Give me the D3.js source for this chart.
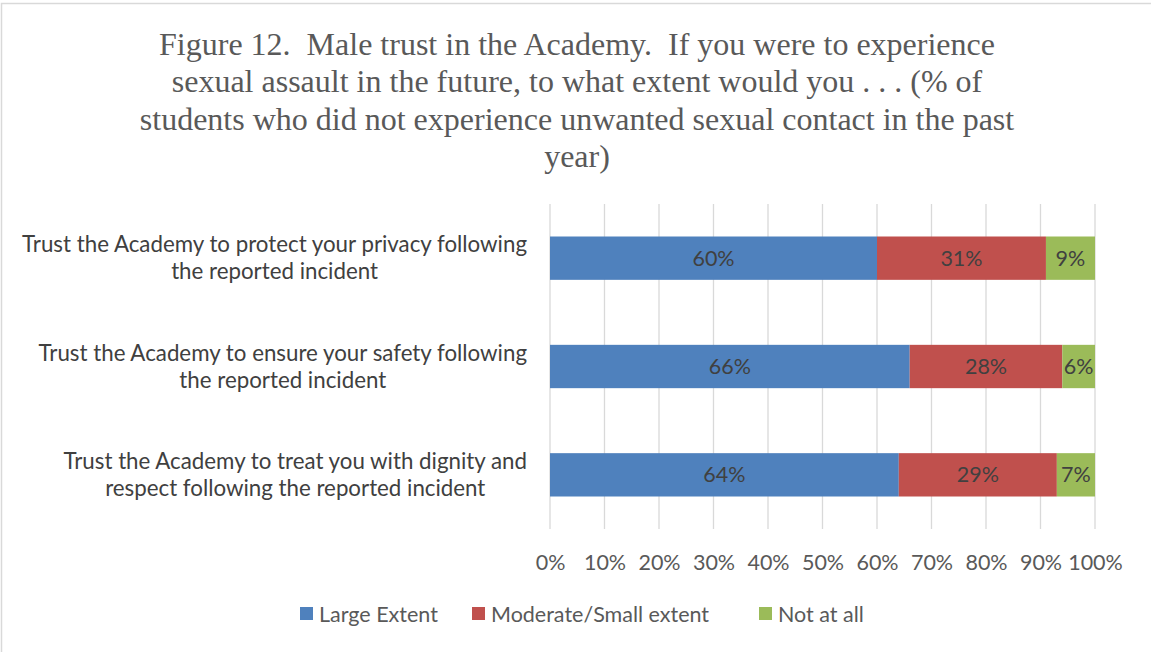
<!DOCTYPE html>
<html>
<head>
<meta charset="utf-8">
<script src="https://cdn.jsdelivr.net/npm/d3@7"></script>
<style>
  html, body { margin: 0; padding: 0; background: #fff; }
  svg { display: block; }
  text { white-space: pre; }
</style>
</head>
<body>
<svg id="chart" width="1151" height="652"></svg>
<script>
const titleLines = [
  "Figure 12.  Male trust in the Academy.  If you were to experience",
  "sexual assault in the future, to what extent would you . . . (% of",
  "students who did not experience unwanted sexual contact in the past",
  "year)"
];
const categories = [
  ["Trust the Academy to protect your privacy following", "the reported incident"],
  ["Trust the Academy to ensure your safety following", "the reported incident"],
  ["Trust the Academy to treat you with dignity and", "respect following the reported incident"]
];
const seriesNames = ["Large Extent", "Moderate/Small extent", "Not at all"];
const seriesColors = ["#4F81BD", "#C0504D", "#9BBB59"];
const largeExtent = [60, 66, 64];
const moderateSmall = [31, 28, 29];
const notAtAll = [9, 6, 7];
const tickValues = [0, 10, 20, 30, 40, 50, 60, 70, 80, 90, 100];

const svg = d3.select("#chart");
const W = 1151, H = 652;
const sansFont = "Lato, 'Open Sans', sans-serif";
const fs = 21.5;

// border
svg.append("rect").attr("x", 1.5).attr("y", 3.5).attr("width", W + 10).attr("height", H + 10)
  .attr("fill", "#fff").attr("stroke", "#D9D9D9").attr("stroke-width", 1.5);

// title
svg.append("g").selectAll("text").data(titleLines).join("text")
  .attr("x", 577).attr("y", (d, i) => 55 + i * 37.3)
  .attr("text-anchor", "middle")
  .attr("font-family", "'Liberation Serif', 'Times New Roman', serif")
  .attr("font-size", 32).attr("fill", "#595959")
  .text(d => d);

const x = d3.scaleLinear().domain([0, 100]).range([550, 1095]);
const y = d3.scaleBand().domain(d3.range(categories.length)).range([204, 529]).paddingInner(0.6).paddingOuter(0.3);

// gridlines
svg.append("g").selectAll("line").data(tickValues).join("line")
  .attr("x1", d => x(d)).attr("x2", d => x(d))
  .attr("y1", 204).attr("y2", 529)
  .attr("stroke", "#D9D9D9").attr("stroke-width", 1.3);

// axis tick labels
const xAxis = d3.axisBottom(x).tickValues(tickValues).tickFormat(d => d + "%").tickSize(0).tickPadding(0);
const ax = svg.append("g").attr("transform", "translate(0,570)").call(xAxis);
ax.select(".domain").remove();
ax.selectAll("text").attr("font-family", sansFont).attr("font-size", fs).attr("fill", "#595959").attr("dy", 0);

// stack
const rows = categories.map((c, i) => ({ i, s0: largeExtent[i], s1: moderateSmall[i], s2: notAtAll[i] }));
const stack = d3.stack().keys(["s0", "s1", "s2"]);
const stacked = stack(rows);

const gBars = svg.append("g");
stacked.forEach((layer, k) => {
  gBars.append("g").selectAll("rect").data(layer).join("rect")
    .attr("x", d => x(d[0])).attr("width", d => x(d[1]) - x(d[0]))
    .attr("y", d => y(d.data.i)).attr("height", y.bandwidth())
    .attr("fill", seriesColors[k]);
  gBars.append("g").selectAll("text").data(layer).join("text")
    .attr("x", d => (x(d[0]) + x(d[1])) / 2)
    .attr("y", d => y(d.data.i) + y.bandwidth() / 2 + 7.5)
    .attr("text-anchor", "middle")
    .attr("font-family", sansFont).attr("font-size", fs).attr("fill", "#404040")
    .text(d => (d[1] - d[0]) + "%");
});

// category labels
const gCat = svg.append("g");
categories.forEach((lines, i) => {
  const cy = y(i) + y.bandwidth() / 2;
  const g = gCat.append("g");
  const texts = g.selectAll("text").data(lines).join("text")
    .attr("y", (d, j) => cy + (j - (lines.length - 1) / 2) * 27 + 7.5)
    .attr("text-anchor", "middle")
    .attr("font-family", sansFont).attr("font-size", 22.3).attr("fill", "#404040")
    .text(d => d);
  let maxW = 0;
  texts.each(function () { maxW = Math.max(maxW, this.getComputedTextLength()); });
  texts.attr("x", 527 - maxW / 2);
});

// legend
const legendX = [300, 472, 759];
const lg = svg.append("g");
seriesNames.forEach((n, k) => {
  lg.append("rect").attr("x", legendX[k]).attr("y", 607).attr("width", 13).attr("height", 13).attr("fill", seriesColors[k]);
  lg.append("text").attr("x", legendX[k] + 19).attr("y", 621.5)
    .attr("font-family", sansFont).attr("font-size", fs).attr("fill", "#595959").text(n);
});
</script>
</body>
</html>
